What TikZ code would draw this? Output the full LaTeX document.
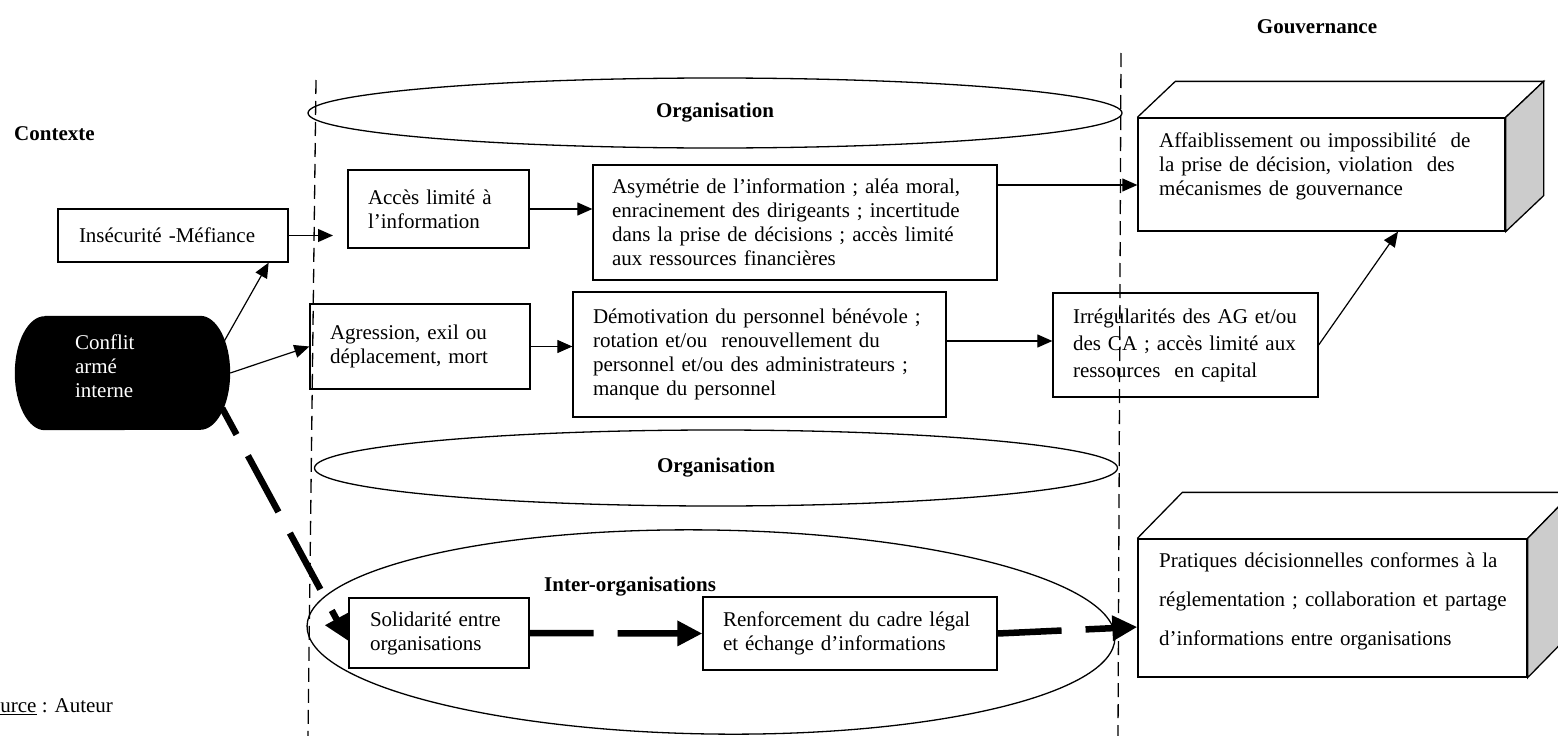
\documentclass[tikz,border=0pt]{standalone}
\usepackage{fontspec}
\setmainfont{Liberation Serif}
\usetikzlibrary{arrows.meta,shapes.geometric,backgrounds}
\newcommand\fs{\fontsize{21}{24}\selectfont}
\begin{document}
\begin{tikzpicture}[x=1pt,y=-1pt,
  bx/.style={draw, line width=1.3pt, inner ysep=0pt, font=\fs, align=left},
  txt/.style={font=\fs, align=left, inner sep=0pt, anchor=west},
  lbl/.style={font=\fs\bfseries, inner sep=0pt},
  ell/.style={draw, ellipse, line width=1.3pt, inner sep=0pt},
  arr/.style={line width=1.2pt, -{Triangle[length=15pt,width=13pt]}},
  tarr/.style={line width=6.5pt, dash pattern=on 64pt off 24pt, -{Triangle[length=25pt,width=24pt]}},
  vdash/.style={line width=1.3pt, dash pattern=on 14pt off 7pt},
  face/.style={draw, line width=1.3pt, line join=miter}]
\useasboundingbox (0,0) rectangle (1558,736);
\clip (0,0) rectangle (1558,736);

% headings
\node[lbl] (gouv) at (1317,27) {Gouvernance};
\node[lbl, anchor=west] (ctx) at (14,134) {Contexte};
\node[font=\fs, anchor=west, inner sep=0pt] (src) at (-22,707) {\underline{Source} : Auteur};

% vertical dashed separators
\coordinate (vL1) at (316,80); \coordinate (vL2) at (308,736);
\coordinate (vR1) at (1121,53); \coordinate (vR2) at (1118,736);
\draw[vdash] (vL1) -- (vL2);
\draw[vdash] (vR1) -- (vR2);

% ellipses
\node[ell, minimum width=814pt, minimum height=70pt, font=\fs\bfseries] (org1) at (715,113) {Organisation};
\node[ell, minimum width=803pt, minimum height=76pt, font=\fs\bfseries] (org2) at (716,468) {Organisation};
\node[ell, minimum width=808pt, minimum height=204pt, rotate=-0.85] (inter) at (711,632) {};
\node[lbl, anchor=west] (interlbl) at (544,587) {Inter-organisations};

% conflict
\node[inner xsep=60pt, text width=95pt, minimum height=114pt, text=white, font=\fs, align=left] (conf) at (122.5,373) {Conflit\\armé\\interne\par\vspace*{14pt}};
\begin{scope}[on background layer]
\fill ([xshift=30pt]conf.north west) -- ([xshift=-30pt]conf.north east)
  arc[start angle=90,end angle=-90,x radius=30pt,y radius=57pt]
  -- ([xshift=30pt]conf.south west)
  arc[start angle=270,end angle=90,x radius=30pt,y radius=57pt] -- cycle;
\end{scope}

% boxes
\node[bx, inner xsep=21pt, text width=188pt, minimum height=53pt] (insec) at (173,235.5) {Insécurité -Méfiance};
\node[bx, inner xsep=20pt, text width=141pt, minimum height=78pt] (acces) at (438.5,209) {Accès limité à\\l’information};
\node[bx, inner xsep=20pt, text width=180pt, minimum height=85pt] (agress) at (420,346.5) {Agression, exil ou\\déplacement, mort};
\node[bx, inner xsep=20pt, text width=333pt, minimum height=125pt] (demot) at (759.5,354.5) {Démotivation du personnel bénévole ;\\rotation et/ou\ \ renouvellement du\\personnel et/ou des administrateurs ;\\manque du personnel};
\node[bx, inner xsep=9pt, text width=386pt, minimum height=115pt] (asym) at (795,222.5) {\hspace*{10pt}\makebox[376pt][s]{Asymétrie de l’information ; aléa moral,}\\\hspace*{10pt}\makebox[376pt][s]{enracinement des dirigeants ; incertitude}\\\hspace*{10pt}\makebox[376pt][s]{dans la prise de décisions ; accès limité}\\\hspace*{10pt}aux ressources financières};
\node[bx, inner xsep=20pt, text width=225pt, minimum height=104pt, font=\fontsize{21}{27}\selectfont] (irreg) at (1185.5,345) {Irrégularités des AG et/ou\\des CA ; accès limité aux\\ressources\ \ en capital};
\node[bx, minimum width=367pt, minimum height=113pt] (aff) at (1321.5,174.5) {};
\node[txt, text width=330pt] (afftxt) at (1159,166) {Affaiblissement ou impossibilité\ \ de\\la prise de décision, violation\ \ des\\mécanismes de gouvernance};
\node[bx, minimum width=389pt, minimum height=138pt] (prat) at (1332.5,608) {};
\node[txt, text width=360pt, font=\fontsize{21}{39}\selectfont] (prattxt) at (1159,601) {Pratiques décisionnelles conformes à la\\\mbox{réglementation ; collaboration et partage}\\d’informations entre organisations};
\node[bx, inner xsep=21pt, text width=138pt, minimum height=70pt] (solid) at (439,633) {Solidarité entre\\organisations};
\node[bx, inner xsep=20pt, text width=254pt, minimum height=73pt] (renf) at (850,633.5) {\makebox[252pt][s]{Renforcement du cadre légal}\\et échange d’informations};

% 3D faces
\draw[face] (aff.north west) -- ++(38pt,36pt) -- ([shift={(38pt,36pt)}]aff.north east) -- (aff.north east);
\filldraw[face, fill=gray!40] (aff.north east) -- ++(38pt,36pt) -- ([shift={(38pt,36pt)}]aff.south east) -- (aff.south east) -- cycle;
\draw[face] (prat.north west) -- ++(45pt,46pt) -- ([shift={(45pt,46pt)}]prat.north east) -- (prat.north east);
\filldraw[face, fill=gray!40] (prat.north east) -- ++(45pt,46pt) -- ([shift={(45pt,46pt)}]prat.south east) -- (prat.south east) -- cycle;

% connectors
\draw[arr] ([shift={(-7pt,30pt)}]conf.east) -- ([xshift=-20pt]insec.south east);
\draw[arr] (conf.east) -- (agress.west);
\coordinate (insecEnd) at (333,235.5);
\draw[arr] (insec.east) -- (insecEnd);
\draw[arr] (acces.east) -- (acces.east -| asym.west);
\coordinate (a1) at ([yshift=37.5pt]asym.east);
\draw[arr] (a1) -- (a1 -| aff.west);
\draw[arr] (agress.east) -- (agress.east -| demot.west);
\coordinate (d1) at ([yshift=4pt]irreg.west);
\draw[arr] (d1 -| demot.east) -- (d1);
\draw[arr] (irreg.east) -- ([xshift=76.5pt]aff.south);
\draw[tarr] (solid.east) -- (renf.west);
\draw[tarr] (renf.east) -- ([yshift=-19pt]prat.west);
\draw[tarr, dash phase=34pt] ([shift={(-8pt,22pt)}]conf.south east) -- ([yshift=-8pt]solid.west);
\end{tikzpicture}
\end{document}
